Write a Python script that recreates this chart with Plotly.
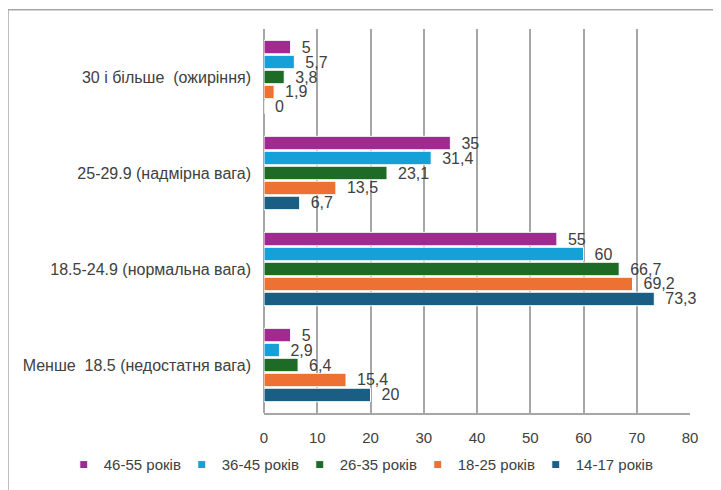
import plotly.graph_objects as go

# категорії ІМТ (знизу вгору, як їх розкладає plotly)
categories = [
    "Менше\u00a0\u00a018.5 (недостатня вага)",
    "18.5-24.9 (нормальна вага)",
    "25-29.9 (надмірна вага)",
    "30 і більше\u00a0\u00a0(ожиріння)",
]

# вікові групи - перша в списку малюється внизу групи
groups = ["14-17 років", "18-25 років", "26-35 років", "36-45 років", "46-55 років"]
colors = ["#1A5F83", "#EC7133", "#1E6B28", "#15A0D8", "#9E2B8F"]

vals_14_17 = [20, 73.3, 6.7, 0]
vals_18_25 = [15.4, 69.2, 13.5, 1.9]
vals_26_35 = [6.4, 66.7, 23.1, 3.8]
vals_36_45 = [2.9, 60, 31.4, 5.7]
vals_46_55 = [5, 55, 35, 5]
series = [vals_14_17, vals_18_25, vals_26_35, vals_36_45, vals_46_55]

x_ticks = [0, 10, 20, 30, 40, 50, 60, 70, 80]

FONT = "Liberation Sans, Arial, sans-serif"
GREY = "#404040"
LINE = "#A6A6A6"


def lbl(v):
    # кома як десятковий роздільник + невеликий відступ від стовпчика
    return "\u2002" + ("%g" % v).replace(".", ",")


fig = go.Figure()
for name, col, vals in zip(groups, colors, series):
    fig.add_trace(go.Bar(
        y=categories, x=vals, name=name, orientation="h",
        marker=dict(color=col, line=dict(color="white", width=1)),
        text=[lbl(v) for v in vals], textposition="outside",
        textfont=dict(family=FONT, size=16, color=GREY),
        constraintext="none", cliponaxis=False, showlegend=False,
    ))

# легенда з маленькими квадратиками, як в оригіналі
for name, col in zip(groups, colors):
    fig.add_trace(go.Scatter(
        x=[None], y=[None], mode="markers", name=name,
        marker=dict(symbol="square", size=8, color=col,
                    line=dict(color="white", width=1)),
    ))

# сторінка має відступ 8px у body, тому сам рисунок трохи менший
fig.update_layout(
    width=713, height=482,
    margin=dict(l=256, r=31, t=21, b=77, autoexpand=False),
    paper_bgcolor="white", plot_bgcolor="white",
    barmode="group", bargap=0.22, bargroupgap=0.1,
    font=dict(family=FONT, size=15, color=GREY),
    showlegend=True,
    legend=dict(
        orientation="h", traceorder="reversed",
        x=-0.47, xanchor="left", y=-0.135, yanchor="middle",
        font=dict(family=FONT, size=15, color=GREY),
        itemwidth=30, entrywidth=73, entrywidthmode="pixels",
    ),
    # рамка навколо всього рисунка
    shapes=[dict(type="rect", xref="paper", yref="paper",
                 x0=-0.601, x1=1.066, y0=-0.22, y1=1.05,
                 line=dict(color=LINE, width=1.5), layer="below")],
)

fig.update_xaxes(
    range=[0, 80], tickvals=x_ticks, showgrid=True,
    gridcolor=LINE, gridwidth=1.5,
    zeroline=True, zerolinecolor=LINE, zerolinewidth=1.5,
    showline=True, linecolor=LINE, linewidth=1.5,
    ticks="", ticklabelstandoff=10, automargin=False,
    tickfont=dict(family=FONT, size=15, color=GREY),
)
fig.update_yaxes(
    showgrid=False, showline=False, ticks="",
    ticklabelstandoff=12, automargin=False,
    tickfont=dict(family=FONT, size=16, color=GREY),
)

fig.write_html("out.html")
